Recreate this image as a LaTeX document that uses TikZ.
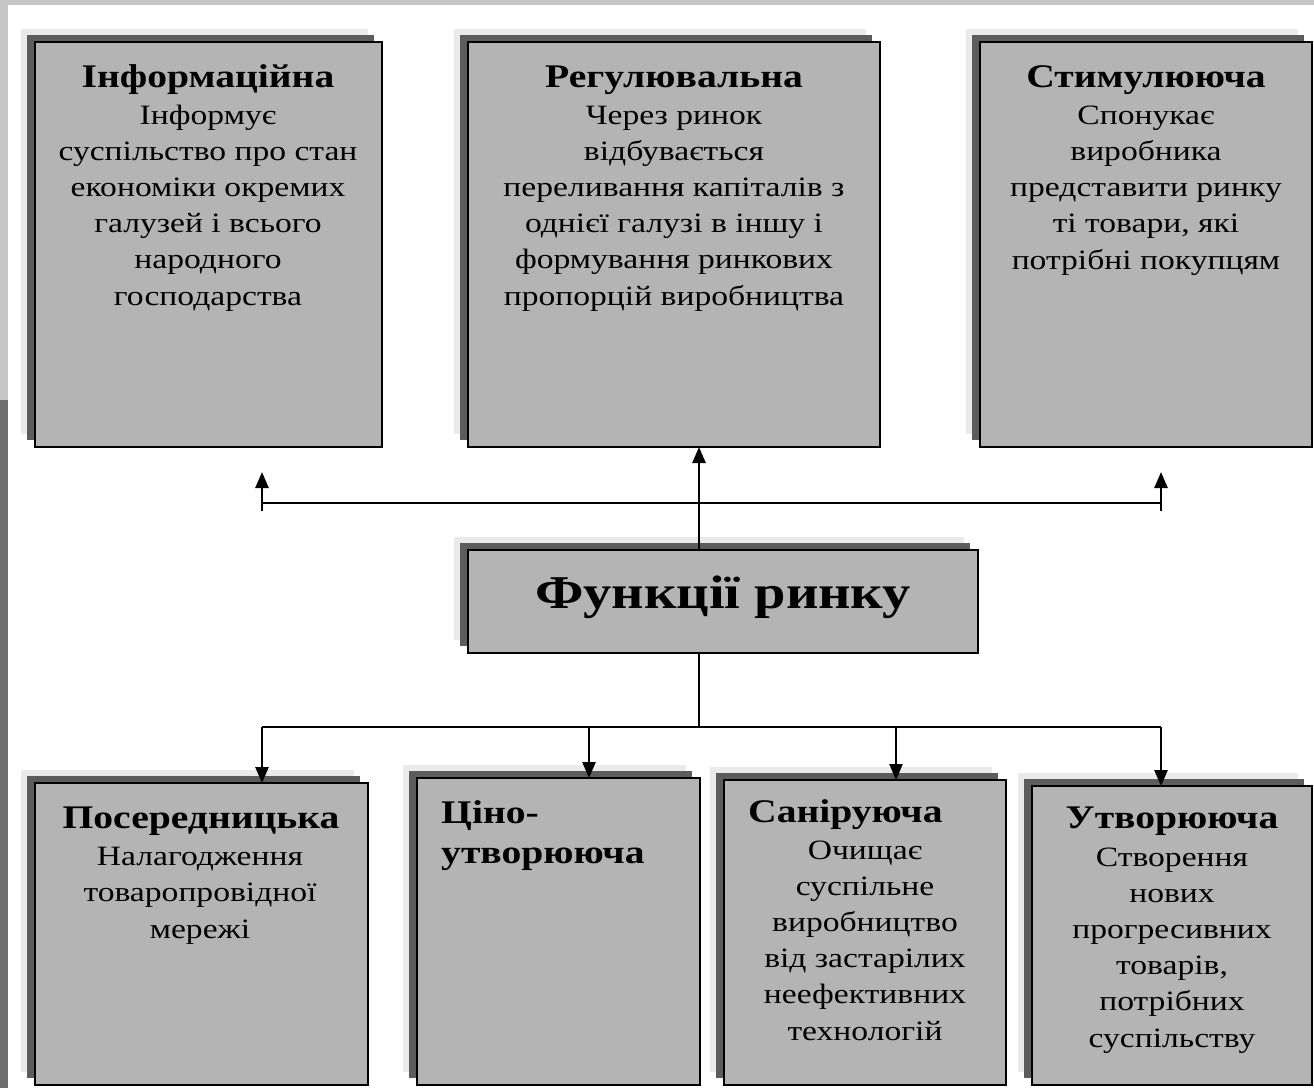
\documentclass[tikz,border=0pt]{standalone}
\usepackage{fontspec}
\setmainfont[FakeStretch=1.2]{Liberation Serif}
\usetikzlibrary{arrows.meta,shadows}
\definecolor{boxgray}{HTML}{B4B4B4}
\definecolor{shadowgray}{HTML}{5C5C5C}
\definecolor{halogray}{HTML}{EAEAEA}
\definecolor{stripgray}{HTML}{C6C6C6}
\definecolor{edgedark}{HTML}{6E6E6E}
\begin{document}
\begin{tikzpicture}[x=1pt,y=-1pt,
  fbox/.style={draw=black, line width=1.8pt, fill=boxgray, inner sep=0pt, outer sep=0pt, anchor=north west,
     general shadow={fill=halogray, shadow xshift=-14pt, shadow yshift=13pt},
     general shadow={fill=shadowgray, shadow xshift=-8pt, shadow yshift=7pt}},
  ttl/.style={font=\fontsize{33}{37}\selectfont\bfseries, inner sep=0pt, anchor=base},
  body/.style={font=\fontsize{28}{36.2}\selectfont, align=center, inner sep=0pt, anchor=base},
  conn/.style={line width=2.6pt, draw=black},
  arr/.style={conn, -{Triangle[length=16pt,width=13pt]}},
]
\useasboundingbox (0,0) rectangle (1314,1088);
\fill[white] (0,0) rectangle (1314,1088);
\fill[stripgray] (0,0) rectangle (1314,5);
\fill[stripgray] (0,0) rectangle (8,400);
\fill[edgedark] (0,400) rectangle (8,1088);

% top row
\node[fbox, minimum width=347pt, minimum height=405pt] (inf) at (35,42) {};
\node[fbox, minimum width=412pt, minimum height=405pt] (reg) at (468,42) {};
\node[fbox, minimum width=332pt, minimum height=405pt] (stim) at (980,42) {};
% centre
\node[fbox, minimum width=510pt, minimum height=103pt] (fr) at (468,550) {};
% bottom row
\node[fbox, minimum width=333pt, minimum height=302pt] (pos) at (35,783) {};
\node[fbox, minimum width=283pt, minimum height=307pt] (cin) at (417,778) {};
\node[fbox, minimum width=282pt, minimum height=305pt] (san) at (724,780) {};
\node[fbox, minimum width=280pt, minimum height=299pt] (utv) at (1032,786) {};

% texts (anchor=base is the baseline of the last line)
\node[ttl] (infT) at (208,87) {Інформаційна};
\node[body] (infB) at (208,305) {Інформує\\суспільство про стан\\економіки окремих\\галузей і всього\\народного\\господарства};
\node[ttl] (regT) at (674,87) {Регулювальна};
\node[body] (regB) at (674,305) {Через ринок\\відбувається\\переливання капіталів з\\однієї галузі в іншу і\\формування ринкових\\пропорцій виробництва};
\node[ttl] (stimT) at (1146,87) {Стимулююча};
\node[body] (stimB) at (1146,269) {Спонукає\\виробника\\представити ринку\\ті товари, які\\потрібні покупцям};

\node[font=\fontsize{47}{50}\selectfont\bfseries, inner sep=0pt, anchor=base] (frT) at (723,608) {Функції ринку};

\node[ttl] (posT) at (201,828) {Посередницька};
\node[body] (posB) at (200,938) {Налагодження\\товаропровідної\\мережі};
\node[font=\fontsize{33}{40}\selectfont\bfseries, align=left, inner sep=0pt, anchor=base west] (cinT) at (441,863) {Ціно-\\утворююча};
\node[ttl, anchor=base west] (sanT) at (748,822) {Саніруюча};
\node[body] (sanB) at (865,1040) {Очищає\\суспільне\\виробництво\\від застарілих\\неефективних\\технологій};
\node[ttl] (utvT) at (1172,828) {Утворююча};
\node[body] (utvB) at (1172,1047) {Створення\\нових\\прогресивних\\товарів,\\потрібних\\суспільству};

% connectors up
\coordinate (up) at (699,500);
\draw[arr] (fr.north -| up) -- (reg.south -| up);
\coordinate (hl) at (262,503);
\coordinate (hr) at (1161,503);
\draw[conn] (hl) -- (hr);
\coordinate (bl) at (262,511);
\coordinate (tl) at (262,472);
\coordinate (br) at (1161,511);
\coordinate (tr) at (1161,472);
\draw[arr] (bl) -- (tl);
\draw[arr] (br) -- (tr);

% connectors down
\coordinate (dn) at (699,727);
\draw[conn] (fr.south -| dn) -- (dn);
\coordinate (dl) at (262,727);
\coordinate (dr) at (1161,727);
\draw[conn] (dl) -- (dr);
\coordinate (d2) at (589,727);
\coordinate (d3) at (896,727);
\draw[arr] (dl) -- (dl |- pos.north);
\draw[arr] (d2) -- (d2 |- cin.north);
\draw[arr] (d3) -- (d3 |- san.north);
\draw[arr] (dr) -- (dr |- utv.north);
\end{tikzpicture}
\end{document}
